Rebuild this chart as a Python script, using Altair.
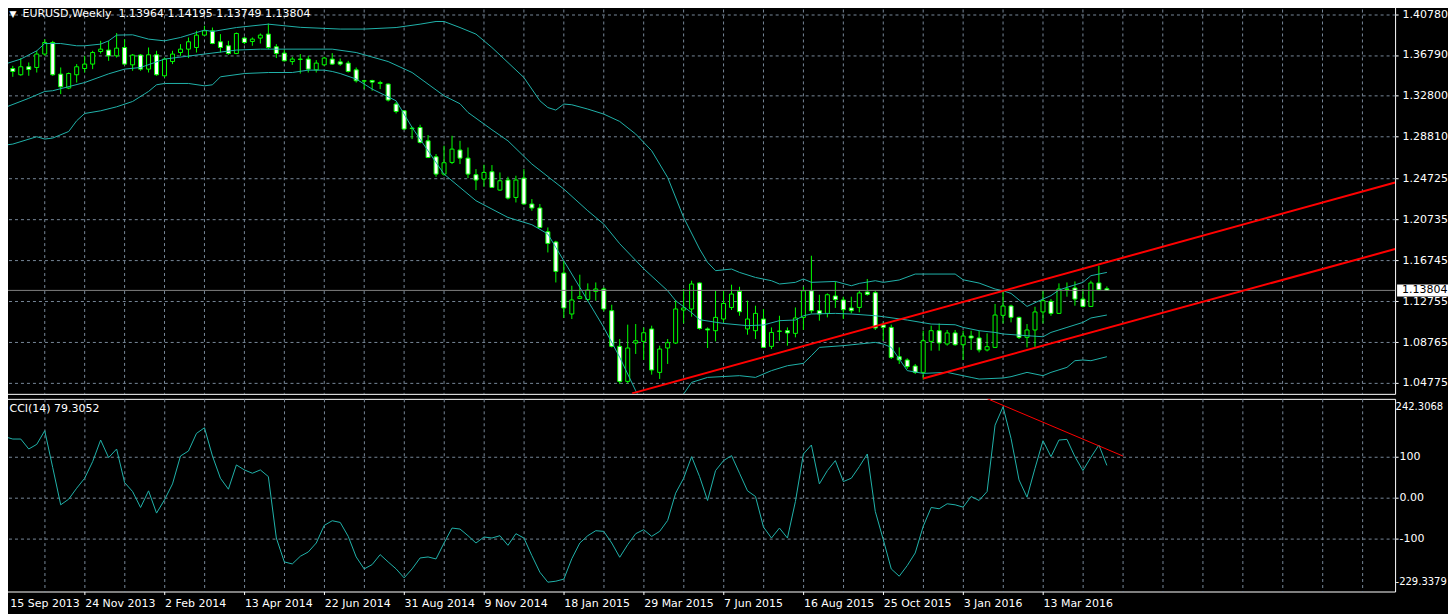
import json
import altair as alt
import pandas as pd

# ---------------- data ----------------
OPEN = [1.3369, 1.3547, 1.3486, 1.3564, 1.3557, 1.3688, 1.3801, 1.3492, 1.3356, 1.3486,
        1.3547, 1.3590, 1.3713, 1.3727, 1.3671, 1.3752, 1.3583, 1.3678, 1.3541, 1.3681,
        1.3476, 1.3615, 1.3703, 1.3736, 1.3752, 1.3873, 1.3915, 1.3808, 1.3769, 1.3693,
        1.3844, 1.3811, 1.3844, 1.3883, 1.3759, 1.3697, 1.3615, 1.3639, 1.3639, 1.3534,
        1.3583, 1.3639, 1.3612, 1.3600, 1.3534, 1.3427, 1.3430, 1.3401, 1.3395, 1.3200,
        1.3134, 1.2965, 1.2971, 1.2841, 1.2685, 1.2516, 1.2630, 1.2751, 1.2672, 1.2510,
        1.2468, 1.2539, 1.2360, 1.2458, 1.2288, 1.2477, 1.2224, 1.2185, 1.1953, 1.1853,
        1.1550, 1.1150, 1.1302, 1.1292, 1.1371, 1.1394, 1.1182, 1.0834, 1.0492, 1.0867,
        1.0883, 1.1004, 1.0580, 1.0818, 1.0867, 1.1189, 1.1199, 1.1453, 1.1004, 1.0987,
        1.1101, 1.1214, 1.1371, 1.1004, 1.0987, 1.1101, 1.0834, 1.0980, 1.0987, 1.0961,
        1.1117, 1.1377, 1.1182, 1.1156, 1.1326, 1.1287, 1.1209, 1.1214, 1.1365, 1.1358,
        1.1043, 1.1019, 1.0733, 1.0701, 1.0642, 1.0580, 1.0883, 1.0987, 1.0857, 1.0965,
        1.0850, 1.0935, 1.0916, 1.0799, 1.0824, 1.1137, 1.1228, 1.1117, 1.0922, 1.0994,
        1.1170, 1.1273, 1.1156, 1.1394, 1.1404, 1.1296, 1.1224, 1.1453, 1.13964]
HIGH = [1.3574, 1.3573, 1.3649, 1.3606, 1.3720, 1.3834, 1.3817, 1.3557, 1.3508, 1.3590,
        1.3671, 1.3720, 1.3817, 1.3817, 1.3893, 1.3834, 1.3688, 1.3688, 1.3752, 1.3720,
        1.3654, 1.3720, 1.3785, 1.3850, 1.3915, 1.3964, 1.3947, 1.3883, 1.3817, 1.3898,
        1.3856, 1.3850, 1.3889, 1.3986, 1.3785, 1.3736, 1.3661, 1.3688, 1.3671, 1.3629,
        1.3661, 1.3697, 1.3645, 1.3622, 1.3557, 1.3437, 1.3437, 1.3427, 1.3401, 1.3222,
        1.3141, 1.2978, 1.2998, 1.2897, 1.2712, 1.2793, 1.2890, 1.2841, 1.2776, 1.2565,
        1.2607, 1.2604, 1.2532, 1.2490, 1.2500, 1.2565, 1.2272, 1.2224, 1.1995, 1.1865,
        1.1670, 1.1426, 1.1534, 1.1449, 1.1458, 1.1410, 1.1241, 1.0906, 1.1046, 1.1052,
        1.1019, 1.1036, 1.0841, 1.0906, 1.1287, 1.1394, 1.1475, 1.1458, 1.1019, 1.1377,
        1.1377, 1.1436, 1.1416, 1.1280, 1.1231, 1.1199, 1.1019, 1.1133, 1.1019, 1.1214,
        1.1416, 1.1719, 1.1338, 1.1351, 1.1468, 1.1319, 1.1319, 1.1377, 1.1492, 1.1377,
        1.1068, 1.1046, 1.0824, 1.0717, 1.0662, 1.0987, 1.1036, 1.1058, 1.0994, 1.0994,
        1.0987, 1.0987, 1.0987, 1.0961, 1.1248, 1.1377, 1.1241, 1.1124, 1.1052, 1.1221,
        1.1377, 1.1296, 1.1449, 1.1458, 1.1468, 1.1394, 1.1475, 1.1621, 1.14195]
LOW = [1.3330, 1.3466, 1.3476, 1.3476, 1.3508, 1.3671, 1.3476, 1.3297, 1.3346, 1.3410,
       1.3508, 1.3541, 1.3693, 1.3622, 1.3654, 1.3583, 1.3525, 1.3525, 1.3508, 1.3476,
       1.3459, 1.3590, 1.3671, 1.3649, 1.3703, 1.3866, 1.3785, 1.3703, 1.3681, 1.3688,
       1.3785, 1.3769, 1.3791, 1.3736, 1.3649, 1.3615, 1.3583, 1.3498, 1.3508, 1.3508,
       1.3574, 1.3583, 1.3574, 1.3508, 1.3410, 1.3346, 1.3330, 1.3346, 1.3225, 1.3108,
       1.2946, 1.2858, 1.2815, 1.2672, 1.2490, 1.2500, 1.2614, 1.2614, 1.2477, 1.2360,
       1.2392, 1.2380, 1.2353, 1.2268, 1.2239, 1.2217, 1.2158, 1.1989, 1.1751, 1.1458,
       1.1111, 1.1101, 1.1296, 1.1273, 1.1280, 1.1175, 1.0824, 1.0467, 1.0473, 1.0760,
       1.0701, 1.0558, 1.0516, 1.0662, 1.0857, 1.1058, 1.1124, 1.0997, 1.0818, 1.0883,
       1.1068, 1.1189, 1.1133, 1.0948, 1.0906, 1.0818, 1.0808, 1.0889, 1.0841, 1.0922,
       1.0994, 1.1156, 1.1085, 1.1117, 1.1209, 1.1101, 1.1156, 1.1166, 1.1329, 1.0994,
       1.0889, 1.0711, 1.0662, 1.0613, 1.0564, 1.0509, 1.0792, 1.0792, 1.0841, 1.0841,
       1.0701, 1.0799, 1.0775, 1.0785, 1.0818, 1.1058, 1.1068, 1.0906, 1.0824, 1.0818,
       1.1058, 1.1133, 1.1150, 1.1319, 1.1231, 1.1214, 1.1222, 1.1377, 1.13749]
CLOSE = [1.3525, 1.3518, 1.3564, 1.3537, 1.3688, 1.3801, 1.3486, 1.3368, 1.3498, 1.3564,
         1.3590, 1.3703, 1.3736, 1.3671, 1.3746, 1.3590, 1.3678, 1.3541, 1.3681, 1.3486,
         1.3639, 1.3688, 1.3736, 1.3808, 1.3873, 1.3915, 1.3791, 1.3752, 1.3693, 1.3889,
         1.3801, 1.3834, 1.3873, 1.3752, 1.3693, 1.3622, 1.3639, 1.3636, 1.3541, 1.3600,
         1.3649, 1.3590, 1.3590, 1.3518, 1.3427, 1.3424, 1.3414, 1.3410, 1.3239, 1.3127,
         1.2956, 1.2961, 1.2825, 1.2678, 1.2516, 1.2627, 1.2760, 1.2672, 1.2516, 1.2458,
         1.2532, 1.2386, 1.2451, 1.2282, 1.2458, 1.2224, 1.2185, 1.1995, 1.1839, 1.1566,
         1.1209, 1.1287, 1.1319, 1.1384, 1.1394, 1.1199, 1.0834, 1.0492, 1.0818, 1.0889,
         1.0967, 1.0603, 1.0808, 1.0870, 1.1199, 1.1209, 1.1443, 1.1009, 1.0994, 1.1117,
         1.1253, 1.1345, 1.1172, 1.1101, 1.1156, 1.0824, 1.0970, 1.0984, 1.0965, 1.1111,
         1.1377, 1.1182, 1.1150, 1.1338, 1.1290, 1.1192, 1.1182, 1.1355, 1.1341, 1.1013,
         1.1019, 1.0726, 1.0701, 1.0636, 1.0580, 1.0889, 1.0987, 1.0867, 1.0965, 1.0850,
         1.0935, 1.0916, 1.0799, 1.0831, 1.1140, 1.1228, 1.1117, 1.0922, 1.0994, 1.1170,
         1.1280, 1.1156, 1.1394, 1.1390, 1.1296, 1.1224, 1.1453, 1.1387, 1.13804]

# Bollinger bands (bar index, value)
UPPER = [(0, 1.3590), (2, 1.3639), (4, 1.3720), (5, 1.3791), (7, 1.3791), (9, 1.3769),
         (10, 1.3769), (12, 1.3785), (13, 1.3817), (14, 1.3873), (16, 1.3876), (18, 1.3834),
         (20, 1.3817), (22, 1.3850), (24, 1.3898), (25, 1.3922), (26, 1.3908), (29, 1.3947),
         (33, 1.3980), (37, 1.3949), (42, 1.3932), (45, 1.3932), (49, 1.3947), (52, 1.3980),
         (54, 1.4006), (55, 1.4006), (57, 1.3947), (59, 1.3883), (61, 1.3752), (65, 1.3459),
         (67, 1.3232), (68, 1.3166), (69, 1.3141), (70, 1.3200), (71, 1.3193), (73, 1.3151),
         (75, 1.3102), (77, 1.3030), (79, 1.2907), (81, 1.2744), (83, 1.2483), (85, 1.2093),
         (87, 1.1784), (88, 1.1654), (89, 1.1573), (91, 1.1589), (92, 1.1556), (94, 1.1507),
         (96, 1.1475), (97, 1.1443), (99, 1.1459), (100, 1.1492), (101, 1.1459), (104, 1.1468),
         (106, 1.1426), (107, 1.1449), (109, 1.1475), (110, 1.1459), (112, 1.1482), (114, 1.1540),
         (119, 1.1540), (120, 1.1484), (122, 1.1452), (124, 1.1394), (125, 1.1377), (126, 1.1351),
         (128, 1.1224), (130, 1.1296), (131, 1.1329), (132, 1.1384), (133, 1.1410), (135, 1.1459),
         (136, 1.1524), (138, 1.1556)]
MIDDLE = [(0, 1.3166), (3, 1.3256), (5, 1.3323), (6, 1.3330), (10, 1.3410), (13, 1.3495),
          (15, 1.3541), (17, 1.3557), (20, 1.3639), (25, 1.3688), (29, 1.3727), (32, 1.3736),
          (41, 1.3736), (44, 1.3703), (48, 1.3615), (51, 1.3508), (55, 1.3281), (57, 1.3203),
          (58, 1.3118), (61, 1.2949), (63, 1.2841), (66, 1.2614), (70, 1.2370), (73, 1.2158),
          (75, 1.2028), (77, 1.1836), (80, 1.1592), (83, 1.1377), (84, 1.1280), (86, 1.1163),
          (87, 1.1094), (90, 1.1058), (93, 1.1036), (95, 1.1043), (97, 1.1085), (99, 1.1091),
          (100, 1.1133), (101, 1.1150), (104, 1.1156), (106, 1.1150), (109, 1.1133), (110, 1.1124),
          (113, 1.1091), (116, 1.1052), (119, 1.1045), (120, 1.1019), (122, 1.0987), (124, 1.0970),
          (125, 1.0955), (128, 1.0938), (130, 1.0928), (131, 1.0970), (133, 1.1019), (135, 1.1068),
          (136, 1.1111), (138, 1.1140)]
LOWER = [(0, 1.2799), (1, 1.2809), (4, 1.2881), (5, 1.2858), (6, 1.2868), (8, 1.2932),
         (9, 1.3037), (10, 1.3108), (12, 1.3134), (14, 1.3173), (16, 1.3225), (18, 1.3323),
         (19, 1.3388), (20, 1.3401), (23, 1.3401), (25, 1.3378), (26, 1.3388), (27, 1.3466),
         (30, 1.3498), (33, 1.3508), (36, 1.3508), (38, 1.3531), (40, 1.3531), (41, 1.3518),
         (42, 1.3498), (44, 1.3444), (46, 1.3346), (49, 1.3232), (51, 1.2971), (55, 1.2516),
         (59, 1.2256), (63, 1.2093), (66, 1.2022), (68, 1.1931), (69, 1.1800), (70, 1.1670),
         (72, 1.1410), (75, 1.1019), (77, 1.0727), (79, 1.0401), (80, 1.0255), (82, 1.0157),
         (84, 1.0206), (85, 1.0369), (86, 1.0482), (88, 1.0531), (92, 1.0548), (94, 1.0531),
         (96, 1.0597), (98, 1.0645), (100, 1.0668), (101, 1.0743), (102, 1.0824), (105, 1.0841),
         (107, 1.0857), (109, 1.0873), (110, 1.0857), (111, 1.0824), (113, 1.0597), (115, 1.0570),
         (118, 1.0580), (121, 1.0531), (122, 1.0515), (125, 1.0525), (126, 1.0538), (128, 1.0580),
         (130, 1.0548), (131, 1.0580), (133, 1.0629), (134, 1.0694), (135, 1.0701), (136, 1.0694),
         (138, 1.0733)]

CCI = [149.6, 143.9, 143.9, 119.5, 130.9, 164.2, 74.0, -17.1, -3.3, 23.6,
       48.0, 88.6, 141.5, 98.4, 119.5, 37.4, 15.4, -23.6, 17.1, -37.4,
       -4.9, 34.1, 102.4, 114.6, 157.7, 171.5, 102.4, 48.0, 21.1, 80.5,
       68.3, 60.2, 68.3, 52.0, -98.4, -156.9, -161.8, -143.1, -132.5, -110.6,
       -67.5, -56.1, -60.2, -94.3, -144.7, -174.0, -163.4, -139.0, -156.9, -174.0,
       -195.9, -174.0, -147.2, -144.7, -149.6, -110.6, -74.0, -76.4, -92.7, -110.6,
       -95.9, -98.4, -92.7, -116.3, -87.8, -98.4, -141.5, -182.1, -206.5, -204.1,
       -199.0, -149.0, -110.6, -92.7, -80.5, -82.1, -110.6, -145.5, -114.6, -87.8,
       -78.0, -94.3, -82.1, -55.3, 11.4, 48.0, 100.8, 52.0, -6.5, 66.7,
       91.1, 103.3, 60.2, 17.1, 3.3, -71.5, -98.4, -74.0, -98.4, -8.9,
       107.3, 129.3, 34.1, 66.7, 91.1, 39.8, 48.0, 76.4, 107.3, -33.3,
       -102.4, -174.0, -191.9, -165.9, -135.0, -69.9, -23.6, -26.8, -14.6, -17.1,
       -22.8, 3.3, -6.5, 15.4, 178.0, 222.8, 145.5, 43.9, 1.6, 72.4,
       139.8, 100.8, 141.5, 143.1, 100.8, 66.7, 99.2, 129.3, 79.3052]

# red trend lines: (bar index, value) end points
CHANNEL_UP = [(78.55, 1.0375), (174.09, 1.2434)]
CHANNEL_LOW = [(115.0, 1.0521), (174.09, 1.1784)]
CCI_TREND = [(123.0, 242.9), (140.0, 102.4)]

BID = 1.13804
PRICE_TICKS = [1.40780, 1.36790, 1.32800, 1.28810, 1.24725, 1.20735, 1.16745, 1.12755, 1.08765, 1.04775]
CCI_TICKS = [100, 0, -100]
CCI_MAX, CCI_MIN = 242.3068, -229.3379
DATE_LABELS = ["15 Sep 2013", "24 Nov 2013", "2 Feb 2014", "13 Apr 2014", "22 Jun 2014",
               "31 Aug 2014", "9 Nov 2014", "18 Jan 2015", "29 Mar 2015", "7 Jun 2015",
               "16 Aug 2015", "25 Oct 2015", "3 Jan 2016", "13 Mar 2016"]
GRID_BARS = list(range(0, 175, 5))
TITLE = "EURUSD,Weekly\u00a0 1.13964 1.14195 1.13749 1.13804"
CCI_TITLE = "CCI(14) 79.3052"

# ---------------- styling ----------------
LIME = "#00FF00"
BAND = "#20B2AA"
GRID = "#778899"
FONT = "DejaVu Sans"
W, H_MAIN, H_CCI = 1394, 391, 193

xs = alt.Scale(domain=[-0.1625, 174.09], nice=False, zero=False)
ps = alt.Scale(domain=[1.03703, 1.41814], nice=False, zero=False)
cs = alt.Scale(domain=[CCI_MIN, CCI_MAX], nice=False, zero=False)

y_main_axis = alt.Axis(orient="right", values=PRICE_TICKS, format=".5f", grid=True, gridColor=GRID,
                       gridDash=[3, 3], domain=False, tickSize=3, tickColor="white",
                       labelPadding=4, labelColor="white", labelFont=FONT, labelFontSize=11,
                       title=None)

date_expr = ("datum.value % 10 === 0 && datum.value <= 130 ? "
             + json.dumps(DATE_LABELS) + "[datum.value / 10] : ''")
x_cci_axis = alt.Axis(values=GRID_BARS, grid=True, gridColor=GRID, gridDash=[3, 3], title=None,
                      gridOpacity={"condition": {"test": "datum.value === 0", "value": 0}, "value": 1},
                      domain=False, tickSize=3, tickColor="white",
                      tickOpacity={"condition": {"test": "datum.value % 10 !== 0 || datum.value > 130",
                                                 "value": 0}, "value": 1},
                      labelOffset={"condition": {"test": "datum.value === 0", "value": 5}, "value": 0},
                      labelExpr=date_expr, labelAlign="left", labelPadding=3, labelFlush=False,
                      labelOverlap=False, labelColor="white", labelFont=FONT, labelFontSize=11)
y_cci_axis = alt.Axis(orient="right", values=CCI_TICKS, grid=True, gridColor=GRID, gridDash=[3, 3],
                      domain=False, tickSize=3, tickColor="white", labelPadding=1,
                      labelExpr="datum.value === 0 ? '0.00' : '' + datum.value",
                      labelColor="white", labelFont=FONT, labelFontSize=11, title=None)


def XM(f):
    return alt.X(f, type="quantitative", scale=xs, axis=None)


def YM(f):
    return alt.Y(f, type="quantitative", scale=ps, axis=y_main_axis)


def XC(f):
    return alt.X(f, type="quantitative", scale=xs, axis=x_cci_axis)


def YC(f):
    return alt.Y(f, type="quantitative", scale=cs, axis=y_cci_axis)


candles = pd.DataFrame({"k": list(range(len(OPEN))), "open": OPEN, "high": HIGH,
                        "low": LOW, "close": CLOSE})
bands = pd.DataFrame(
    [{"band": "upper", "k": k, "v": v} for k, v in UPPER]
    + [{"band": "middle", "k": k, "v": v} for k, v in MIDDLE]
    + [{"band": "lower", "k": k, "v": v} for k, v in LOWER])
channels = pd.DataFrame(
    [{"line": "a", "k": k, "v": v} for k, v in CHANNEL_UP]
    + [{"line": "b", "k": k, "v": v} for k, v in CHANNEL_LOW])
bid = pd.DataFrame({"p": [BID], "label": [f"{BID:.5f}"]})
vgrid = pd.DataFrame({"k": GRID_BARS[1:]})
cci = pd.DataFrame({"k": list(range(len(CCI))), "v": CCI})
cci_trend = pd.DataFrame([{"k": k, "v": v} for k, v in CCI_TREND])
top_ext = pd.DataFrame({"v": [CCI_MAX], "label": [f"{CCI_MAX:.4f}"]})
bot_ext = pd.DataFrame({"v": [CCI_MIN], "label": [f"{CCI_MIN:.4f}"]})

grid_lines = alt.Chart(vgrid).mark_rule(color=GRID, strokeWidth=1, strokeDash=[3, 3]).encode(
    x=XM("k"))
wicks = alt.Chart(candles).mark_rule(color=LIME, strokeWidth=1).encode(
    x=XM("k"), y=YM("low"), y2="high")
bodies = alt.Chart(candles).transform_calculate(
    x0="datum.k - 0.25", x1="datum.k + 0.25"
).mark_rect(stroke=LIME, strokeWidth=1).encode(
    x=XM("x0"), x2="x1", y=YM("open"), y2="close",
    fill=alt.condition("datum.close < datum.open", alt.value("white"), alt.value("black")))
band_lines = alt.Chart(bands).mark_line(color=BAND, strokeWidth=1, clip=True).encode(
    x=XM("k"), y=YM("v"), detail="band:N")
bid_line = alt.Chart(bid).mark_rule(color="#808080", strokeWidth=1).encode(y=YM("p"))
channel_lines = alt.Chart(channels).mark_line(color="#FF0000", strokeWidth=2, clip=True).encode(
    x=XM("k"), y=YM("v"), detail="line:N")
bid_box = alt.Chart(bid).mark_rule(color="white", strokeWidth=12).encode(
    x=alt.value(W + 2), x2=alt.value(W + 54), y=YM("p"))
bid_text = alt.Chart(bid).mark_text(color="black", align="left", baseline="middle",
                                    font=FONT, fontSize=11).encode(
    x=alt.value(W + 7), y=YM("p"), text="label:N")
tri = alt.Chart(bid).mark_text(color="white", align="left", baseline="middle",
                               font=FONT, fontSize=9).encode(
    x=alt.value(6), y=alt.value(10), text=alt.value("\u25BC"))
title = alt.Chart(bid).mark_text(color="white", align="left", baseline="middle",
                                 font=FONT, fontSize=11).encode(
    x=alt.value(19), y=alt.value(10.8), text=alt.value(TITLE))

main = alt.layer(grid_lines, wicks, bodies, band_lines, bid_line, channel_lines, bid_box,
                 bid_text, tri, title).properties(width=W, height=H_MAIN)

cci_line = alt.Chart(cci).mark_line(color=BAND, strokeWidth=1, clip=True).encode(
    x=XC("k"), y=YC("v"))
cci_red = alt.Chart(cci_trend).mark_line(color="#FF0000", strokeWidth=1, clip=True).encode(
    x=XC("k"), y=YC("v"))
top_text = alt.Chart(top_ext).mark_text(color="white", align="left", baseline="middle",
                                        font=FONT, fontSize=10, dy=8.5).encode(
    x=alt.value(W + 0.5), y=YC("v"), text="label:N")
bot_text = alt.Chart(bot_ext).mark_text(color="white", align="left", baseline="middle",
                                        font=FONT, fontSize=10, dy=-9.5).encode(
    x=alt.value(W + 0.5), y=YC("v"), text="label:N")
cci_title = alt.Chart(bid).mark_text(color="white", align="left", baseline="middle",
                                     font=FONT, fontSize=11).encode(
    x=alt.value(6), y=alt.value(10), text=alt.value(CCI_TITLE))

lower = alt.layer(cci_line, cci_red, top_text, bot_text, cci_title).properties(width=W, height=H_CCI)

chart = alt.vconcat(main, lower, spacing=3).properties(
    padding={"left": -6.5, "top": -6, "right": -8, "bottom": 4}
).configure(background="black").configure_view(stroke="white", strokeWidth=1)

chart.save("out.html", embed_options={"renderer": "svg", "actions": False})
